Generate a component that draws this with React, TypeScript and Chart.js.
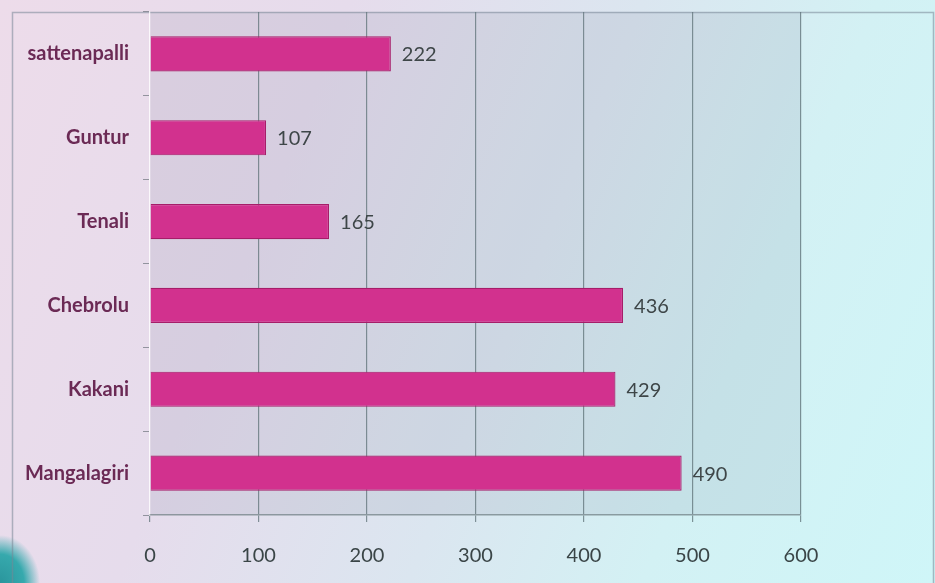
import React, { useEffect, useRef } from "react";
import { Chart, registerables } from "chart.js";

Chart.register(...registerables);

const categories = ["sattenapalli", "Guntur", "Tenali", "Chebrolu", "Kakani", "Mangalagiri"];
const values = [222, 107, 165, 436, 429, 490];
const xTicks = [0, 100, 200, 300, 400, 500, 600];

const W = 935;
const H = 583;

const framePlugin = {
  id: "framePlugin",
  beforeDraw(chart: any) {
    const { ctx, chartArea } = chart;
    ctx.save();
    ctx.fillStyle = "rgba(95,100,125,0.11)";
    ctx.fillRect(chartArea.left, chartArea.top, chartArea.right - chartArea.left, chartArea.bottom - chartArea.top);
    ctx.strokeStyle = "rgba(120,135,150,0.55)";
    ctx.lineWidth = 1.5;
    ctx.strokeRect(12.5, 12.5, 921, 700);
    ctx.restore();
  },
};

const valueLabelPlugin = {
  id: "valueLabelPlugin",
  afterDatasetsDraw(chart: any) {
    const { ctx } = chart;
    const meta = chart.getDatasetMeta(0);
    ctx.save();
    ctx.font = "20px Lato";
    ctx.fillStyle = "#3e4648";
    ctx.textAlign = "left";
    ctx.textBaseline = "middle";
    meta.data.forEach((bar: any, i: number) => {
      ctx.fillText(String(values[i]), bar.x + 11, bar.y + 1);
    });
    ctx.restore();
  },
};

export default function App() {
  const ref = useRef<HTMLCanvasElement>(null);

  useEffect(() => {
    if (!ref.current) return;
    const chart = new Chart(ref.current, {
      type: "bar",
      data: {
        labels: categories,
        datasets: [
          {
            data: values,
            backgroundColor: "#d2318e",
            borderColor: "#a61d69",
            borderWidth: 1.2,
            barPercentage: 0.42,
            categoryPercentage: 1,
          },
        ],
      },
      options: {
        indexAxis: "y",
        animation: false,
        responsive: false,
        maintainAspectRatio: false,
        layout: { padding: { top: 12, right: 134, left: 0, bottom: 0 } },
        plugins: {
          legend: { display: false },
          tooltip: { enabled: false },
        },
        scales: {
          x: {
            min: 0,
            max: 600,
            afterBuildTicks(scale: any) {
              scale.ticks = xTicks.map((v) => ({ value: v }));
            },
            afterFit(scale: any) {
              scale.height = 68;
              scale.paddingLeft = 0;
              scale.paddingRight = 0;
            },
            ticks: {
              stepSize: 100,
              padding: 22,
              color: "#3a4547",
              font: { family: "Lato", size: 20 },
            },
            grid: {
              color: (c: any) => (c.tick && c.tick.value === 0 ? "rgba(255,255,255,0.55)" : "rgba(95,115,120,0.75)"),
              tickColor: "rgba(95,115,120,0.75)",
              tickLength: 7,
              lineWidth: 1.2,
            },
            border: { display: true, color: "rgba(110,125,130,0.7)", width: 1.5 },
          },
          y: {
            afterFit(scale: any) {
              scale.width = 150;
              scale.paddingTop = 0;
              scale.paddingBottom = 0;
            },
            ticks: {
              padding: 14,
              color: "#6b2a55",
              font: { family: "Lato", size: 20, weight: "bold" },
            },
            grid: {
              offset: true,
              drawOnChartArea: false,
              drawTicks: true,
              tickLength: 7,
              tickColor: "rgba(110,115,125,0.7)",
            },
            border: { display: true, color: "rgba(255,255,255,0.55)", width: 1.2 },
          },
        },
      },
      plugins: [framePlugin, valueLabelPlugin],
    });
    return () => chart.destroy();
  }, []);

  return (
    <div
      style={{
        position: "fixed",
        left: 0,
        top: 0,
        width: W,
        height: H,
        overflow: "hidden",
        background:
          "radial-gradient(ellipse 40px 48px at 0px 583px, #2a959c 0%, #36a9ad 60%, rgba(120,200,205,0) 100%), linear-gradient(112deg, #eddcea 0%, #e6dcec 30%, #dbe6f0 55%, #d3f1f4 75%, #cff6f8 100%)",
      }}
    >
      <canvas ref={ref} width={W} height={H} style={{ display: "block", width: W, height: H }} />
    </div>
  );
}
